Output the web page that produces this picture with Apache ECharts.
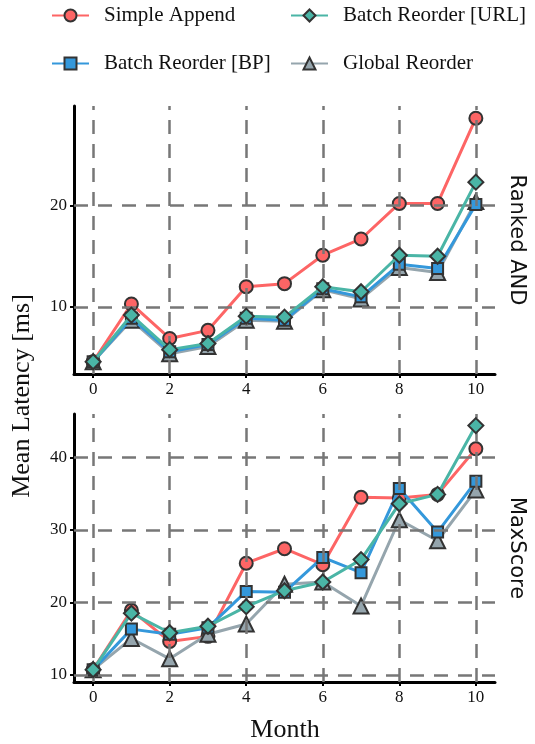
<!DOCTYPE html>
<html>
<head>
<meta charset="utf-8">
<script src="https://cdn.jsdelivr.net/npm/echarts@6/dist/echarts.min.js"></script>
<style>
  html, body { margin: 0; padding: 0; background: #fff; }
  #chart { width: 535px; height: 744px; }
</style>
</head>
<body>
<div id="chart"></div>
<script>
// months on the x axis
const months = [0, 1, 2, 3, 4, 5, 6, 7, 8, 9, 10];
const monthTicks = [0, 2, 4, 6, 8, 10];

// Ranked AND panel (ms)
const andSimple = [4.6, 10.3, 6.9, 7.7, 12.0, 12.3, 15.1, 16.7, 20.2, 20.2, 28.6];
const andURL    = [4.6, 9.2, 5.8, 6.4, 9.1, 9.0, 12.0, 11.5, 15.1, 15.0, 22.3];
const andBP     = [4.6, 8.9, 5.6, 6.3, 8.9, 8.7, 11.8, 11.0, 14.2, 13.8, 20.1];
const andGlobal = [4.6, 8.7, 5.4, 6.1, 8.7, 8.6, 11.7, 10.8, 13.9, 13.4, 20.4];
const andTicks  = [10, 20];

// MaxScore panel (ms)
const msSimple = [10.7, 18.9, 14.6, 15.3, 25.4, 27.4, 25.2, 34.5, 34.4, 34.9, 41.2];
const msURL    = [10.7, 18.5, 15.8, 16.7, 19.4, 21.6, 22.8, 25.9, 33.6, 34.9, 44.4];
const msBP     = [10.7, 16.3, 15.6, 16.5, 21.5, 21.4, 26.2, 24.1, 35.7, 29.7, 36.7];
const msGlobal = [10.7, 15.0, 12.2, 15.6, 17.0, 22.5, 22.8, 19.5, 31.4, 28.5, 35.5];
const msTicks  = [10, 20, 30, 40];

const serif = 'Liberation Serif';
const styles = {
  'Simple Append':        { color: '#fd6565', symbol: 'circle',   size: 13, z: 2 },
  'Batch Reorder [URL]':  { color: '#4ab5a6', symbol: 'diamond',  size: 15, z: 5 },
  'Batch Reorder [BP]':   { color: '#3498db', symbol: 'rect',     size: 11, z: 4 },
  'Global Reorder':       { color: '#95a5ad', symbol: 'triangle', size: 15, z: 3 }
};

function pairs(ys) { return months.map((m, i) => [m, ys[i]]); }

function lineSeries(name, ys, idx) {
  const s = styles[name];
  return {
    name: name, type: 'line', xAxisIndex: idx, yAxisIndex: idx,
    data: pairs(ys), z: s.z,
    symbol: s.symbol, symbolSize: s.size, showSymbol: true,
    lineStyle: { color: s.color, width: 3 },
    itemStyle: { color: s.color, borderColor: '#333', borderWidth: 2 },
    emphasis: { disabled: true },
    animation: false
  };
}

// dashed grid drawn as mark lines at the tick values
function gridSeries(idx, yTicks) {
  return {
    type: 'line', xAxisIndex: idx, yAxisIndex: idx, data: [], z: 1,
    silent: true, animation: false,
    markLine: {
      silent: true, symbol: 'none', animation: false,
      label: { show: false },
      lineStyle: { color: '#777', width: 2.5, type: [14, 10] },
      data: monthTicks.map(v => ({ xAxis: v })).concat(yTicks.map(v => ({ yAxis: v })))
    }
  };
}

function xAxisOf(idx) {
  return {
    type: 'value', gridIndex: idx, min: -0.5, max: 10.5,
    axisLine: { show: true, onZero: false, lineStyle: { color: '#000', width: 3 } },
    axisTick: { show: true, customValues: monthTicks, length: 4, lineStyle: { color: '#000', width: 2 } },
    axisLabel: { customValues: monthTicks, color: '#111', fontFamily: serif, fontSize: 17, margin: 7 },
    splitLine: { show: false }
  };
}

function yAxisOf(idx, min, max, ticks) {
  return {
    type: 'value', gridIndex: idx, min: min, max: max,
    axisLine: { show: true, onZero: false, lineStyle: { color: '#000', width: 3 } },
    axisTick: { show: true, customValues: ticks, length: 4, lineStyle: { color: '#000', width: 2 } },
    axisLabel: { customValues: ticks, color: '#111', fontFamily: serif, fontSize: 17, margin: 7 },
    splitLine: { show: false }
  };
}

const legendText = { color: '#111', fontFamily: serif, fontSize: 21, padding: [0, 0, 0, 10] };

const option = {
  backgroundColor: '#fff',
  animation: false,
  legend: [
    { data: ['Simple Append', 'Batch Reorder [BP]'], orient: 'vertical', left: 51, top: 5, padding: 0,
      itemWidth: 37, itemHeight: 15, itemGap: 27, textStyle: legendText, selectedMode: false },
    { data: ['Batch Reorder [URL]', 'Global Reorder'], orient: 'vertical', left: 290, top: 5, padding: 0,
      itemWidth: 37, itemHeight: 15, itemGap: 27, textStyle: legendText, selectedMode: false }
  ],
  grid: [
    { left: 74, top: 106, width: 421, height: 268 },
    { left: 74, top: 414, width: 421, height: 268 }
  ],
  xAxis: [xAxisOf(0), xAxisOf(1)],
  yAxis: [yAxisOf(0, 3.4, 29.8, andTicks), yAxisOf(1, 9.0, 46.0, msTicks)],
  graphic: [
    { type: 'text', x: 22, y: 396, rotation: Math.PI / 2,
      style: { text: 'Mean Latency [ms]', fill: '#111', font: '26px "Liberation Serif"', textAlign: 'center', textVerticalAlign: 'middle' } },
    { type: 'text', x: 285, y: 730,
      style: { text: 'Month', fill: '#111', font: '26px "Liberation Serif"', textAlign: 'center', textVerticalAlign: 'middle' } },
    { type: 'text', x: 516, y: 240, rotation: -Math.PI / 2,
      style: { text: 'Ranked AND', fill: '#111', font: '21px "DejaVu Sans"', textAlign: 'center', textVerticalAlign: 'middle' } },
    { type: 'text', x: 516, y: 548, rotation: -Math.PI / 2,
      style: { text: 'MaxScore', fill: '#111', font: '21px "DejaVu Sans"', textAlign: 'center', textVerticalAlign: 'middle' } }
  ],
  series: [
    gridSeries(0, andTicks),
    gridSeries(1, msTicks),
    lineSeries('Simple Append', andSimple, 0),
    lineSeries('Global Reorder', andGlobal, 0),
    lineSeries('Batch Reorder [BP]', andBP, 0),
    lineSeries('Batch Reorder [URL]', andURL, 0),
    lineSeries('Simple Append', msSimple, 1),
    lineSeries('Global Reorder', msGlobal, 1),
    lineSeries('Batch Reorder [BP]', msBP, 1),
    lineSeries('Batch Reorder [URL]', msURL, 1)
  ]
};

const chart = echarts.init(document.getElementById('chart'), null, { renderer: 'canvas' });
chart.setOption(option);
</script>
</body>
</html>
